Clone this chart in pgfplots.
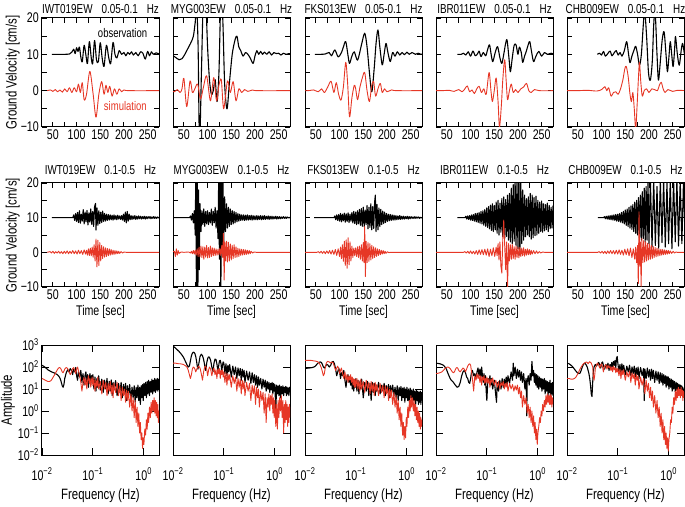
\documentclass[border=0pt]{standalone}
\usepackage{fontspec}
\setmainfont{Liberation Sans}[FakeStretch=0.76]
\usepackage{pgfplots}
\pgfplotsset{compat=1.18}
\definecolor{simred}{RGB}{230,55,38}
\pgfplotsset{
  base/.style={scale only axis, width=117pt, clip=true,
    axis line style={line width=1pt},
    tick align=inside, tick style={line width=0.9pt, black},
    minor tick length=0pt,
    tick label style={font=\fontsize{14}{14}\selectfont},
    yticklabel style={anchor=east, inner sep=0pt, xshift=-3pt},
    label style={font=\fontsize{14}{14}\selectfont},
    title style={font=\fontsize{13}{13}\selectfont, at={(0.5,1)}, anchor=base},
  },
  wave/.style={base, xmin=27, xmax=274, ymin=-10, ymax=20,
    xtick={50,75,...,250}, xticklabels={50,,100,,150,,200,,250},
    ytick={-10,-5,...,20}, yticklabels={},
    major tick length=5pt,
    xticklabel style={anchor=base, yshift=-13pt},
    ylabel style={font=\fontsize{15}{15}\selectfont, at={(axis description cs:-0.25,0.5)}, anchor=center},
  },
  row1/.style={wave, height=109pt, title style={yshift=-1.5pt}},
  row2/.style={wave, height=104pt, title style={yshift=2pt},
    xlabel={Time [sec]}, xlabel style={at={(axis description cs:0.5,0)}, anchor=base, yshift=-29pt}},
  spec/.style={base, xmin=0.01, xmax=2, ymin=0.01, ymax=1000, height=110pt,
    xtick={0.01,0.1,1}, xticklabels={10\textsuperscript{−2},10\textsuperscript{−1},10\textsuperscript{0}},
    ytick={0.01,0.1,1,10,100,1000}, yticklabels={},
    major tick length=7pt,
    xticklabel style={anchor=base, yshift=-25pt},
    xlabel={Frequency (Hz)}, xlabel style={font=\fontsize{15}{15}\selectfont, at={(axis description cs:0.5,0)}, anchor=base, yshift=-44pt},
    ylabel style={font=\fontsize{15}{15}\selectfont, at={(axis description cs:-0.29,0.5)}, anchor=center},
  },
  obs/.style={black, line width=1.1pt, line join=round},
  sim/.style={simred, line width=0.9pt, line join=round},
}
\newcommand{\gap}{\hspace{9pt}}
\begin{document}
\begin{tikzpicture}
\path[use as bounding box] (0pt,0pt) rectangle (685pt,506pt);
% ================= ROW 1 : 0.05-0.1 Hz =================
\begin{axis}[row1, at={(42pt,379pt)}, anchor=south west,
  title={IWT019EW\gap 0.05-0.1\gap Hz},
  yticklabels={−10,,0,,10,,20}, ylabel={Ground Velocity [cm/s]}]
\addplot[obs, smooth, tension=0.5] coordinates {(48,10)(60,10)(75,10)(85,10.1)(90,10.6)(94,11.4)(97,10.2)(100,11.8)(103,10.8)(106,12)(109,9.2)(112,8)(116,12.5)(120,9.5)(123,7.5)(127,13.5)(131,9)(134,7.5)(138,13.8)(142,8.5)(146,8)(150,13.2)(154,9)(158,6.7)(163,12.5)(168,9)(172,7.5)(177,13.3)(181,10)(185,9)(190,11)(195,10)(200,10.5)(204,9.6)(208,10.5)(212,10)(216,10.7)(220,9.8)(225,10.5)(230,9.6)(235,10.7)(240,10.3)(245,8.7)(250,10.8)(254,9.6)(258,10.7)(262,10)(268,10.4)(276,10)};
\addplot[sim, smooth, tension=0.5] coordinates {(38,0)(45,0.2)(50,-0.2)(55,0.3)(60,-0.3)(65,0.2)(70,-0.4)(75,0.5)(80,-0.3)(85,0.8)(90,-0.5)(95,0.8)(100,-0.3)(104,1.8)(108,-0.5)(112,2.2)(116,-2.5)(121,-1)(128,5.3)(135,-1)(141,-7.3)(147,-1)(153,2.5)(158,-1)(162,1.5)(166,-0.5)(170,1.2)(175,-1.5)(180,0.5)(185,-1)(190,0.5)(195,-0.3)(200,0.2)(210,0)(278,0)};
\node[font=\fontsize{12.5}{12.5}\selectfont] at (axis cs:197,15.8) {observation};
\node[font=\fontsize{12.5}{12.5}\selectfont, text=simred] at (axis cs:203,-4.2) {simulation};
\end{axis}
\begin{axis}[row1, at={(173pt,379pt)}, anchor=south west,
  title={MYG003EW\gap 0.05-0.1\gap Hz}]
\addplot[obs, smooth, tension=0.5] coordinates {(22,10)(32,9.2)(40,8.5)(46,8.8)(52,10)(58,11.5)(64,13)(70,15)(74,19)(77,23)(80,12)(83,-15)(87,5)(91,25)(96,25)(100,12)(104,3)(108,-1)(112,0)(116,3)(120,-3)(124,5)(128,25)(132,20)(136,2)(141,-5)(146,2)(152,10)(158,14)(162,15)(166,12)(170,11)(175,9.5)(180,10.5)(185,10)(190,9)(196,7.5)(200,9.5)(204,11)(208,10)(212,10.8)(216,10)(220,10.6)(225,10)(230,10.7)(235,9.8)(240,10.5)(245,10.2)(250,10.3)(255,9.8)(260,10.3)(266,10)(272,10.2)(278,10)};
\addplot[sim, smooth, tension=0.5] coordinates {(22,0)(30,-0.3)(36,0.3)(42,-0.5)(46,0.5)(50,3.4)(56,-4.4)(63,2.7)(68,-0.5)(73,0.5)(79,1.8)(85,-2.3)(91,0.8)(98,4.1)(106,-2.8)(113,3.6)(119,-2.8)(124,1.5)(129,3)(134,-5)(142,2.7)(148,-0.5)(154,2.5)(160,-2.8)(166,0.5)(172,-0.5)(178,0.3)(185,-0.2)(195,0.2)(205,0)(278,0)};
\end{axis}
\begin{axis}[row1, at={(305pt,379pt)}, anchor=south west,
  title={FKS013EW\gap 0.05-0.1\gap Hz}]
\addplot[obs, smooth, tension=0.5] coordinates {(48,10)(60,10)(70,10.1)(78,10.5)(83,9.6)(90,11.2)(97,9.3)(104,10.5)(108,12)(113,13.5)(118,9.5)(121,7.5)(126,9.5)(131,10.7)(138,8.4)(146,12.5)(153,15.8)(158,12)(163,5)(168,-0.3)(173,6)(177,13)(181,16.7)(185,12)(190,7.1)(194,10)(198,13)(202,10.5)(207,8)(212,10.5)(217,9.5)(222,10.7)(227,9.8)(232,10.5)(237,9.9)(242,10.6)(247,10)(253,10.5)(260,10)(266,10.3)(272,10)(278,10.2)};
\addplot[sim, smooth, tension=0.5] coordinates {(20,0)(35,0)(45,0.2)(55,-0.3)(62,0.5)(68,-0.5)(75,1)(82,2.6)(88,-0.5)(93,2.2)(98,-1)(103,-2.6)(108,1)(113,7.8)(117,2)(121,-7.2)(126,-2)(131,1.5)(134,0.5)(138,-2.5)(143,1)(148,3.5)(153,5)(158,0)(163,-3)(168,1.5)(172,2.5)(176,-1.5)(181,0.5)(186,2)(190,-0.5)(195,0.5)(200,-0.3)(210,0.2)(220,0)(278,0)};
\end{axis}
\begin{axis}[row1, at={(436pt,379pt)}, anchor=south west,
  title={IBR011EW\gap 0.05-0.1\gap Hz}]
\addplot[obs, smooth, tension=0.5] coordinates {(72,10)(80,10)(85,10.3)(90,9.8)(95,10.7)(100,9.5)(105,10.9)(110,9.6)(115,10.2)(118,10.9)(122,9.4)(127,10.5)(132,9.6)(136,11.3)(140,12.6)(144,9.5)(147,8)(152,10.5)(157,12.1)(162,9)(166,7.5)(170,10)(174,13)(177,13.9)(181,9)(184,5.2)(188,9)(192,12.5)(196,12.6)(200,10)(203,12)(207,10.5)(210,7.8)(214,9.5)(218,11)(222,12.8)(225,13.5)(229,10.5)(233,8)(238,9.5)(244,10.8)(250,9.5)(256,10.5)(262,10)(270,10.3)(278,10)};
\addplot[sim, smooth, tension=0.5] coordinates {(20,0)(40,0)(55,0.1)(65,-0.2)(75,0.3)(82,-0.3)(88,0.5)(93,1.3)(98,-0.3)(103,0.2)(108,-0.8)(113,0.5)(118,1.2)(123,-0.5)(128,0.5)(133,-1)(139,5)(143,0)(146,-3)(150,0)(154,3.5)(158,-3)(161,-10)(165,-4)(168,3)(172,8.5)(175,3)(178,-2.5)(182,0)(186,1.8)(190,-0.5)(195,0.3)(200,-0.5)(206,0.5)(212,1)(218,2)(223,0)(228,-0.5)(235,0.3)(245,0)(278,0)};
\end{axis}
\begin{axis}[row1, at={(567pt,379pt)}, anchor=south west,
  title={CHB009EW\gap 0.05-0.1\gap Hz}]
\addplot[obs, smooth, tension=0.5] coordinates {(91,10)(96,10.3)(100,9.8)(104,10.8)(108,9.5)(113,10.2)(118,10.9)(122,9.6)(127,10.5)(131,11)(135,9.8)(139,10.5)(143,9.5)(148,11)(153,13.5)(157,10)(160,7.7)(164,9.5)(168,11)(172,12.2)(176,10)(180,7)(184,10)(188,18)(191,22)(195,15)(199,5)(203,2.9)(207,8)(210,18)(213,22)(217,10)(220,2.9)(224,8)(228,14)(232,16.2)(236,10)(239,5.2)(242,9)(245,13.5)(248,10)(251,6.6)(254,11)(256,14.9)(260,10)(264,7)(268,11)(271,13)(275,10)(278,8)};
\addplot[sim, smooth, tension=0.5] coordinates {(20,0)(50,0)(70,0.1)(90,-0.1)(100,0.3)(107,1.1)(111,0)(115,0.8)(120,-1.5)(125,-0.5)(130,-0.3)(135,-1)(140,0.5)(145,3)(149,6)(152,6.7)(156,4)(160,-1)(163,-3)(166,-0.5)(169,-5)(172,-10.5)(175,-4)(178,4)(180,7.8)(183,2)(186,-1.5)(190,0)(195,0.5)(200,-0.5)(206,0.5)(212,0.3)(218,0)(222,1.5)(226,2.3)(230,0.5)(234,-0.5)(240,0.3)(250,-0.2)(260,0.1)(278,0)};
\end{axis}
% ================= ROW 2 : 0.1-0.5 Hz =================
\begin{axis}[row2, at={(42pt,219pt)}, anchor=south west,
  title={IWT019EW\gap 0.1-0.5\gap Hz},
  yticklabels={−10,,0,,10,,20}, ylabel={Ground Velocity [cm/s]}]
\addplot[obs] coordinates {(48,10)(92,10)(94,10.8)(96,9.2)(98,11.2)(100,8.9)(102,11.5)(104,8.6)(106,12.0)(108,8.4)(110,11.0)(112,9.0)(114,12.3)(116,8.2)(118,11.6)(120,8.8)(122,12.1)(124,7.9)(126,11.4)(128,8.7)(130,12.5)(132,8.1)(134,11.8)(136,7.5)(138,13.2)(140,14.1)(141,6.4)(143,12.8)(145,7.8)(147,12.0)(149,8.3)(151,11.6)(153,8.6)(155,11.9)(157,8.9)(159,11.2)(161,9.0)(163,11.0)(165,9.2)(167,10.9)(169,9.3)(171,10.8)(173,9.4)(175,10.7)(177,9.3)(179,10.8)(181,9.5)(183,10.6)(185,9.4)(187,10.7)(189,9.6)(191,10.5)(193,9.5)(195,10.6)(197,9.3)(199,11.0)(201,8.9)(203,11.6)(205,8.5)(207,11.8)(209,9.0)(211,11.0)(213,9.4)(215,10.6)(217,9.5)(219,10.5)(221,9.6)(223,10.6)(225,9.5)(227,10.4)(229,9.6)(231,10.5)(233,9.7)(235,10.4)(237,9.6)(239,10.3)(241,9.7)(243,10.4)(245,9.6)(247,10.3)(249,9.7)(251,10.3)(253,9.8)(255,10.3)(257,9.7)(259,10.2)(261,9.8)(263,10.3)(265,9.8)(267,10.2)(269,9.8)(271,10.2)(273,9.9)(275,10.1)(277,9.9)(278,10)};
\addplot[sim] coordinates {(38,0)(44,0.2)(47,-0.2)(50,0.3)(53,-0.3)(56,0.2)(59,-0.2)(62,0.3)(65,-0.3)(68,0.2)(71,-0.4)(74,0.3)(77,-0.3)(80,0.4)(83,-0.4)(86,0.3)(89,-0.3)(92,0.5)(95,-0.4)(98,0.4)(101,-0.5)(104,0.6)(107,-0.4)(110,0.5)(113,-0.6)(116,0.7)(119,-0.5)(121,0.6)(123,-0.8)(125,1.0)(127,-0.9)(129,1.2)(131,-1.0)(133,1.5)(135,-1.4)(137,2.2)(139,-2.5)(141,3.8)(143,-4.2)(145,3.5)(147,-3.8)(149,2.8)(151,-2.5)(153,2.0)(155,-1.8)(157,1.6)(159,-1.4)(161,1.3)(163,-1.2)(165,1.1)(167,-1.0)(169,1.0)(171,-0.8)(173,0.8)(175,-0.7)(177,0.6)(179,-0.6)(181,0.5)(183,-0.5)(185,0.4)(187,-0.4)(189,0.3)(191,-0.3)(194,0.2)(197,-0.2)(200,0.1)(205,0)(278,0)};
\end{axis}
\begin{axis}[row2, at={(173pt,219pt)}, anchor=south west,
  title={MYG003EW\gap 0.1-0.5\gap Hz}]
\addplot[obs] coordinates {(23,10)(62,10)(64,10.5)(66,9.3)(68,11.2)(70,8.5)(72,12)(74,5)(75,22)(76.5,-12)(78,22)(79.5,-12)(81,18)(82.5,-5)(84,14)(86,6)(88,12)(90,8)(92,12.5)(94,7.5)(96,11.8)(98,8.2)(100,12)(102,8)(104,11.5)(106,8.5)(108,12.5)(110,7.8)(112,11.8)(114,8.5)(116,13)(118,7)(120,12)(122,4)(123.5,22)(125,-2)(126.5,22)(128,-12)(129.5,22)(131,0)(132.5,22)(134,2)(136,16)(138,6)(140,14)(142,7)(144,13)(146,7.5)(148,12.5)(150,8)(152,12)(154,8.2)(156,11.8)(158,8.5)(160,11.5)(162,8.8)(164,11.2)(166,9)(168,11)(170,9.2)(172,10.8)(174,9.3)(176,10.8)(178,9.2)(180,10.7)(182,9.3)(184,10.8)(186,9.3)(188,10.6)(190,9.4)(192,10.7)(194,9.3)(196,10.6)(198,9.4)(200,10.5)(202,9.4)(204,10.6)(206,9.4)(208,10.5)(210,9.5)(212,10.6)(214,9.4)(216,10.5)(218,9.5)(220,10.6)(222,9.5)(224,10.4)(226,9.6)(228,10.5)(230,9.5)(232,10.4)(234,9.6)(236,10.4)(238,9.6)(240,10.3)(242,9.7)(244,10.4)(246,9.6)(248,10.3)(250,9.7)(252,10.3)(254,9.7)(256,10.2)(258,9.8)(260,10.3)(262,9.8)(264,10.2)(266,9.8)(268,10.2)(270,9.9)(272,10.1)(274,9.9)(276,10.1)(278,10)};
\addplot[sim] coordinates {(23,0)(30,0.3)(32,-1.2)(34,1.0)(36,-0.8)(38,0.5)(40,-0.3)(44,0.1)(50,0)(60,0.1)(64,-0.2)(66,0.3)(68,-0.4)(70,0.5)(72,-0.5)(74,0.6)(76,-0.8)(78,1.0)(80,-1.2)(82,1.5)(84,-1.3)(86,1.8)(88,-1.5)(90,1.6)(92,-2.0)(94,1.5)(96,-1.4)(98,2.0)(100,-1.6)(102,1.4)(104,-1.5)(106,1.8)(108,-1.2)(110,1.3)(112,-1.0)(114,1.2)(116,-0.9)(118,1.0)(120,-0.8)(122,0.9)(124,-0.7)(126,1.2)(128,-1.0)(130,2.0)(132,-1.5)(133.5,5.5)(135,-8.0)(136.5,3.0)(138,-2.5)(140,3.2)(142,-2.8)(144,2.9)(146,-2.5)(148,2.4)(150,-2.2)(152,2.0)(154,-1.8)(156,2.2)(158,-1.5)(160,1.6)(162,-1.4)(164,1.2)(166,-1.2)(168,1.0)(170,-0.9)(172,0.9)(174,-0.8)(176,0.8)(178,-0.7)(180,0.7)(182,-0.6)(184,0.6)(186,-0.5)(188,0.5)(190,-0.4)(192,0.3)(195,-0.2)(198,0.1)(203,0)(278,0)};
\end{axis}
\begin{axis}[row2, at={(305pt,219pt)}, anchor=south west,
  title={FKS013EW\gap 0.1-0.5\gap Hz}]
\addplot[obs] coordinates {(46,10)(88,10)(90,10.5)(92,9.4)(94,10.8)(96,9.2)(98,10.9)(100,9.0)(102,11.2)(104,8.8)(106,11.0)(108,9.1)(110,11.3)(112,8.7)(114,11.1)(116,8.9)(118,11.4)(120,8.6)(122,11.0)(124,9.0)(126,11.5)(128,8.5)(130,11.8)(132,8.3)(134,11.6)(136,8.0)(138,12.0)(140,8.2)(142,12.4)(144,7.8)(146,12.6)(148,7.5)(150,13.0)(152,7.4)(154,12.2)(156,8.0)(158,13.5)(160,6.8)(162,13.0)(164,7.2)(166,14.0)(168,6.5)(170,13.2)(172,6.9)(174,14.5)(175.5,16.5)(177,6.0)(179,13.8)(181,6.5)(183,12.8)(185,7.4)(187,12.4)(189,8.0)(191,11.9)(193,8.3)(195,11.6)(197,8.6)(199,11.2)(201,8.9)(203,11.0)(205,9.1)(207,10.9)(209,9.2)(211,10.8)(213,9.3)(215,10.7)(217,9.3)(219,10.6)(221,9.4)(223,10.5)(225,9.5)(227,10.6)(229,9.5)(231,10.4)(233,9.6)(235,10.4)(237,9.6)(239,10.3)(241,9.7)(243,10.4)(245,9.6)(247,10.3)(249,9.7)(251,10.3)(253,9.8)(255,10.2)(257,9.8)(259,10.3)(261,9.8)(263,10.2)(265,9.9)(267,10.2)(269,9.8)(271,10.1)(273,9.9)(275,10.1)(278,10)};
\addplot[sim] coordinates {(20,0)(52,0)(55,0.2)(58,-0.2)(61,0.3)(64,-0.3)(67,0.3)(70,-0.4)(73,0.4)(76,-0.3)(79,0.5)(82,-0.5)(85,0.6)(88,-0.6)(91,0.8)(94,-0.9)(97,1.0)(100,-1.2)(102,1.5)(104,-1.8)(106,2.2)(108,-2.6)(110,3.2)(112,-3.8)(114,3.6)(116,-4.6)(118,4.2)(120,-3.6)(122,3.0)(124,-2.5)(126,1.8)(128,-1.5)(130,1.2)(132,-1.0)(134,1.3)(136,-1.2)(138,1.6)(140,-1.5)(142,1.8)(144,-2.0)(146,2.2)(148,-2.5)(150,2.8)(151.5,-3.0)(153,7.4)(154.5,-7.0)(156,3.2)(158,-3.0)(160,2.8)(162,-2.6)(164,2.5)(166,-2.2)(168,2.0)(170,-1.8)(172,1.6)(174,-1.5)(176,1.3)(178,-1.2)(180,1.0)(182,-0.9)(184,0.8)(186,-0.7)(188,0.6)(190,-0.5)(192,0.5)(194,-0.4)(196,0.3)(198,-0.3)(201,0.2)(204,-0.1)(207,0)(278,0)};
\end{axis}
\begin{axis}[row2, at={(436pt,219pt)}, anchor=south west,
  title={IBR011EW\gap 0.1-0.5\gap Hz}]
\addplot[obs] coordinates {(72,10)(88,10)(90,10.4)(92,9.6)(94,10.5)(96,9.5)(98,10.6)(100,9.3)(102,10.8)(104,9.2)(106,10.9)(108,9.0)(110,11.2)(112,8.8)(114,11.3)(116,8.6)(118,11.5)(120,8.4)(122,11.8)(124,8.2)(126,12.0)(128,7.8)(130,12.3)(132,7.5)(134,12.8)(136,7.2)(138,13.2)(140,6.8)(142,13.6)(144,6.3)(146,14.0)(148,6.0)(150,13.5)(152,6.5)(154,14.5)(156,5.5)(158,15.0)(160,5.0)(162,14.2)(164,5.8)(166,15.5)(168,4.5)(170,16.0)(172,4.0)(174,15.2)(176,4.6)(178,16.5)(180,3.5)(182,17.0)(184,3.0)(186,18.5)(188,2.5)(190,19.5)(192,3.2)(194,21)(196,2.0)(198,21)(200,1.0)(202,21)(204,-0.8)(206,20.5)(208,2.5)(210,18.0)(212,3.5)(214,16.5)(216,4.5)(218,15.5)(220,5.0)(222,16.0)(224,4.5)(226,17.0)(228,3.8)(230,16.5)(232,4.2)(234,15.8)(236,4.8)(238,16.2)(240,5.0)(242,15.0)(244,5.5)(246,14.5)(248,6.0)(250,14.8)(252,5.8)(254,14.0)(256,6.2)(258,13.8)(260,6.5)(262,14.2)(264,6.0)(266,13.5)(268,6.8)(270,13.0)(272,7.0)(274,13.4)(276,6.8)(278,12.5)};
\addplot[sim] coordinates {(20,0)(85,0)(88,0.2)(91,-0.2)(94,0.3)(97,-0.3)(100,0.4)(103,-0.4)(106,0.3)(109,-0.5)(112,0.5)(115,-0.6)(118,0.7)(121,-0.6)(124,0.8)(127,-0.7)(130,0.9)(133,-0.8)(136,1.0)(139,-1.2)(142,0.9)(145,-1.0)(148,1.3)(151,-1.2)(154,1.5)(156,-1.0)(158,2.5)(160,-2.2)(162,3.0)(164,-4.0)(166,-6.0)(168,4.0)(170,9.3)(172,2.0)(174,-5.0)(176,3.0)(178,-10.5)(180,2.5)(182,-2.5)(184,2.2)(186,-2.0)(188,2.3)(190,-1.8)(192,1.6)(194,-2.0)(196,1.8)(198,-1.5)(200,1.4)(202,-1.6)(204,1.5)(206,-1.2)(208,1.2)(210,-1.0)(212,1.3)(214,-1.1)(216,0.9)(218,-0.8)(220,1.0)(222,-0.7)(224,0.8)(226,-0.7)(228,0.6)(230,-0.5)(233,0.5)(236,-0.4)(239,0.4)(242,-0.3)(245,0.2)(248,-0.2)(252,0.1)(256,0)(278,0)};
\end{axis}
\begin{axis}[row2, at={(567pt,219pt)}, anchor=south west,
  title={CHB009EW\gap 0.1-0.5\gap Hz}]
\addplot[obs] coordinates {(92,10)(104,10)(106,10.3)(108,9.7)(110,10.4)(112,9.6)(114,10.5)(116,9.5)(118,10.6)(120,9.4)(122,10.7)(124,9.3)(126,10.8)(128,9.2)(130,10.9)(132,9.0)(134,11.0)(136,8.9)(138,11.2)(140,8.7)(142,11.5)(144,8.5)(146,11.8)(148,8.2)(150,12.2)(152,7.8)(154,12.5)(156,7.4)(158,13.0)(160,7.0)(162,13.4)(164,6.6)(166,13.8)(168,6.0)(170,14.5)(172,5.5)(174,15.0)(176,5.0)(178,15.8)(180,4.2)(182,16.5)(184,3.5)(186,17.5)(188,4.0)(190,18.5)(192,3.0)(194,19.0)(196,3.5)(198,20.5)(200,2.5)(203,21)(206.5,1.5)(210,21)(213.5,2.0)(217,19)(220.5,1.2)(224,21)(227.5,2.8)(231,21)(234.5,1.5)(238,20)(241.5,2.5)(245,21)(248.5,1.0)(252,21)(255.5,3.0)(259,21)(262.5,1.8)(266,21)(269.5,2.5)(273,21)(276.5,3.0)(278,10)};
\addplot[sim] coordinates {(20,0)(92,0)(95,0.2)(98,-0.2)(101,0.3)(104,-0.3)(107,0.3)(110,-0.4)(113,0.4)(116,-0.3)(119,0.5)(122,-0.4)(125,0.5)(128,-0.5)(131,0.6)(134,-0.5)(137,0.7)(140,-0.6)(143,0.6)(146,-0.8)(149,0.9)(152,-0.7)(155,1.0)(158,-1.0)(161,1.2)(164,-1.5)(167,1.0)(170,-2.0)(172,1.5)(174,-3.0)(176,2.0)(177.5,-9.0)(179,11.7)(180.5,-4.0)(182,3.0)(183.5,-9.8)(185,4.0)(187,-3.0)(189,3.5)(191,-2.8)(193,3.0)(195,-2.5)(197,2.6)(199,-2.2)(201,2.4)(203,-2.0)(205,2.0)(207,-1.8)(209,1.7)(211,-1.5)(213,1.4)(215,-1.3)(217,1.2)(219,-1.1)(221,1.0)(223,-1.0)(225,0.9)(227,-0.8)(229,0.8)(231,-0.7)(233,0.7)(235,-0.6)(237,0.6)(239,-0.5)(241,0.5)(243,-0.4)(245,0.4)(248,-0.3)(251,0.3)(254,-0.2)(257,0.1)(260,0)(278,0)};
\end{axis}
% ================= ROW 3 : spectra =================
\begin{loglogaxis}[spec, at={(42pt,51pt)}, anchor=south west,
  yticklabels={10\textsuperscript{−2},10\textsuperscript{−1},10\textsuperscript{0},10\textsuperscript{1},10\textsuperscript{2},10\textsuperscript{3}},
  ylabel={Amplitude}]
\addplot[obs] coordinates {(0.010,120)(0.011,105)(0.012,90)(0.013,75)(0.014,68)(0.015,62)(0.016,58)(0.017,55)(0.018,52)(0.019,48)(0.020,45)(0.021,40)(0.022,35)(0.023,28)(0.024,20)(0.025,14)(0.026,12)(0.027,16)(0.028,30)(0.030,55)(0.032,75)(0.034,60)(0.036,85)(0.038,70)(0.040,45)(0.042,80)(0.044,60)(0.046,95)(0.048,40)(0.050,25)(0.052,60)(0.055,35)(0.058,70)(0.061,20)(0.064,50)(0.067,15)(0.070,40)(0.073,60)(0.076,20)(0.079,45)(0.082,12)(0.085,35)(0.088,50)(0.091,15)(0.094,40)(0.097,25)(0.10,45)(0.105,10)(0.11,35)(0.115,8)(0.12,30)(0.125,12)(0.13,40)(0.14,9)(0.15,28)(0.16,7)(0.17,25)(0.18,10)(0.19,30)(0.20,6)(0.21,22)(0.22,8)(0.23,26)(0.24,5)(0.25,20)(0.26,9)(0.28,24)(0.30,5)(0.32,18)(0.34,7)(0.36,20)(0.38,4)(0.40,16)(0.42,6)(0.44,18)(0.46,3)(0.48,14)(0.50,5)(0.53,16)(0.56,3)(0.59,12)(0.62,4)(0.65,14)(0.68,2.5)(0.71,12)(0.74,4)(0.77,15)(0.80,3)(0.83,12)(0.86,2)(0.89,14)(0.92,4)(0.95,16)(0.98,3)(1.01,18)(1.05,5)(1.09,20)(1.13,4)(1.17,22)(1.21,6)(1.25,25)(1.30,5)(1.35,22)(1.40,7)(1.45,28)(1.50,6)(1.55,25)(1.60,8)(1.65,30)(1.70,7)(1.75,26)(1.80,9)(1.85,30)(1.90,8)(1.95,28)(2.0,10)};
\addplot[sim] coordinates {(0.010,30)(0.011,27)(0.012,24)(0.013,22)(0.014,22)(0.015,24)(0.016,30)(0.017,38)(0.018,48)(0.019,60)(0.020,75)(0.021,88)(0.022,95)(0.023,90)(0.024,75)(0.025,60)(0.026,55)(0.027,65)(0.028,80)(0.030,95)(0.032,85)(0.034,60)(0.036,45)(0.038,60)(0.040,85)(0.042,95)(0.044,70)(0.046,50)(0.048,80)(0.050,100)(0.052,70)(0.055,40)(0.058,20)(0.061,8)(0.064,20)(0.067,35)(0.070,15)(0.073,30)(0.076,10)(0.079,25)(0.082,40)(0.085,18)(0.088,30)(0.091,12)(0.094,25)(0.097,35)(0.10,14)(0.105,30)(0.11,8)(0.115,25)(0.12,12)(0.125,35)(0.13,10)(0.14,22)(0.15,6)(0.16,25)(0.17,10)(0.18,20)(0.19,5)(0.20,18)(0.21,8)(0.22,22)(0.23,6)(0.24,15)(0.25,4)(0.26,18)(0.28,7)(0.30,20)(0.32,5)(0.34,14)(0.36,3)(0.38,12)(0.40,5)(0.42,10)(0.44,2.5)(0.46,9)(0.48,3)(0.50,8)(0.53,1.5)(0.56,6)(0.59,1)(0.62,4)(0.65,0.5)(0.68,3)(0.71,0.3)(0.74,1.5)(0.77,0.2)(0.80,0.8)(0.83,0.1)(0.86,0.3)(0.89,0.05)(0.92,0.1)(0.95,0.02)(0.98,0.06)(1.01,0.03)(1.05,0.15)(1.09,0.08)(1.13,0.4)(1.17,0.15)(1.21,0.8)(1.25,0.3)(1.30,1.5)(1.35,0.5)(1.40,2.5)(1.45,0.8)(1.50,3)(1.55,1)(1.60,4)(1.65,0.8)(1.70,3)(1.75,0.6)(1.80,2.5)(1.85,0.5)(1.90,2)(1.95,0.3)(2.0,1)};
\end{loglogaxis}
\begin{loglogaxis}[spec, at={(173pt,51pt)}, anchor=south west]
\addplot[obs] coordinates {(0.010,900)(0.011,750)(0.012,620)(0.013,520)(0.014,430)(0.015,350)(0.016,280)(0.017,210)(0.018,160)(0.019,120)(0.020,100)(0.021,110)(0.022,190)(0.023,320)(0.024,420)(0.025,470)(0.026,460)(0.027,400)(0.028,300)(0.029,190)(0.030,110)(0.031,80)(0.032,130)(0.034,300)(0.036,380)(0.038,330)(0.040,220)(0.042,120)(0.044,70)(0.046,150)(0.048,240)(0.050,290)(0.052,280)(0.055,200)(0.058,100)(0.061,60)(0.064,150)(0.067,230)(0.070,220)(0.073,140)(0.076,70)(0.079,110)(0.082,190)(0.085,200)(0.088,140)(0.091,60)(0.094,120)(0.097,170)(0.10,150)(0.105,50)(0.11,140)(0.115,40)(0.12,120)(0.125,60)(0.13,130)(0.14,35)(0.15,110)(0.16,45)(0.17,100)(0.18,30)(0.19,90)(0.20,40)(0.21,85)(0.22,25)(0.23,80)(0.24,35)(0.25,70)(0.26,20)(0.28,65)(0.30,25)(0.32,60)(0.34,18)(0.36,55)(0.38,20)(0.40,45)(0.42,15)(0.44,40)(0.46,12)(0.48,35)(0.50,15)(0.53,30)(0.56,10)(0.59,28)(0.62,12)(0.65,25)(0.68,8)(0.71,22)(0.74,10)(0.77,20)(0.80,7)(0.83,18)(0.86,9)(0.89,20)(0.92,6)(0.95,18)(0.98,8)(1.01,16)(1.05,0.8)(1.09,15)(1.13,6)(1.17,14)(1.21,5)(1.25,15)(1.30,4)(1.35,13)(1.40,6)(1.45,14)(1.50,5)(1.55,12)(1.60,7)(1.65,13)(1.70,5)(1.75,12)(1.80,6)(1.85,11)(1.90,5)(1.95,12)(2.0,7)};
\addplot[sim] coordinates {(0.010,150)(0.011,150)(0.012,145)(0.013,140)(0.014,140)(0.015,135)(0.016,130)(0.017,120)(0.018,110)(0.019,95)(0.020,70)(0.021,45)(0.022,30)(0.023,45)(0.024,80)(0.025,100)(0.026,95)(0.027,80)(0.028,60)(0.030,90)(0.032,110)(0.034,90)(0.036,50)(0.038,25)(0.040,60)(0.042,100)(0.044,110)(0.046,80)(0.048,40)(0.050,70)(0.052,100)(0.055,80)(0.058,40)(0.061,70)(0.064,90)(0.067,45)(0.070,75)(0.073,30)(0.076,80)(0.079,50)(0.082,85)(0.085,30)(0.088,70)(0.091,45)(0.094,75)(0.097,35)(0.10,60)(0.105,20)(0.11,55)(0.115,15)(0.12,50)(0.125,25)(0.13,45)(0.14,12)(0.15,40)(0.16,18)(0.17,35)(0.18,8)(0.19,30)(0.20,12)(0.21,28)(0.22,6)(0.23,25)(0.24,10)(0.25,22)(0.26,5)(0.28,20)(0.30,8)(0.32,18)(0.34,3)(0.36,15)(0.38,6)(0.40,14)(0.42,2)(0.44,12)(0.46,4)(0.48,10)(0.50,1.5)(0.53,8)(0.56,3)(0.59,7)(0.62,0.8)(0.65,6)(0.68,0.3)(0.71,4)(0.74,1.5)(0.77,6)(0.80,1)(0.83,5)(0.86,2)(0.89,6)(0.92,0.8)(0.95,4)(0.98,0.5)(1.01,3)(1.05,0.2)(1.09,2)(1.13,0.15)(1.17,3)(1.21,0.5)(1.25,4)(1.30,1)(1.35,5)(1.40,0.5)(1.45,3)(1.50,0.1)(1.55,2)(1.60,0.3)(1.65,3)(1.70,0.4)(1.75,2)(1.80,0.2)(1.85,1.5)(1.90,0.3)(1.95,2)(2.0,0.5)};
\end{loglogaxis}
\begin{loglogaxis}[spec, at={(305pt,51pt)}, anchor=south west]
\addplot[obs] coordinates {(0.010,85)(0.011,88)(0.012,90)(0.013,92)(0.014,95)(0.015,100)(0.016,110)(0.017,130)(0.018,150)(0.019,165)(0.020,170)(0.021,160)(0.022,130)(0.023,100)(0.024,90)(0.025,100)(0.026,120)(0.027,130)(0.028,125)(0.030,100)(0.032,120)(0.034,170)(0.036,180)(0.038,140)(0.040,80)(0.042,40)(0.044,60)(0.046,90)(0.048,60)(0.050,30)(0.052,55)(0.055,40)(0.058,70)(0.061,25)(0.064,12)(0.067,30)(0.070,45)(0.073,20)(0.076,35)(0.079,15)(0.082,30)(0.085,10)(0.088,25)(0.091,8)(0.094,20)(0.097,12)(0.10,30)(0.105,8)(0.11,25)(0.115,6)(0.12,22)(0.125,10)(0.13,28)(0.14,4)(0.15,20)(0.16,8)(0.17,22)(0.18,5)(0.19,18)(0.20,3)(0.21,20)(0.22,7)(0.23,18)(0.24,5)(0.25,15)(0.26,8)(0.28,20)(0.30,6)(0.32,15)(0.34,8)(0.36,18)(0.38,5)(0.40,14)(0.42,7)(0.44,16)(0.46,4)(0.48,14)(0.50,6)(0.53,15)(0.56,5)(0.59,12)(0.62,4)(0.65,14)(0.68,3)(0.71,12)(0.74,5)(0.77,13)(0.80,3)(0.83,11)(0.86,4)(0.89,12)(0.92,2.5)(0.95,10)(0.98,4)(1.01,12)(1.05,3)(1.09,10)(1.13,2.5)(1.17,11)(1.21,4)(1.25,9)(1.30,2)(1.35,10)(1.40,3)(1.45,8)(1.50,2)(1.55,9)(1.60,3)(1.65,8)(1.70,2)(1.75,7)(1.80,2.5)(1.85,8)(1.90,2)(1.95,7)(2.0,3)};
\addplot[sim] coordinates {(0.010,200)(0.011,200)(0.012,200)(0.013,200)(0.014,195)(0.015,190)(0.016,185)(0.017,180)(0.018,170)(0.019,150)(0.020,120)(0.021,90)(0.022,60)(0.023,40)(0.024,50)(0.025,90)(0.026,140)(0.027,170)(0.028,180)(0.030,170)(0.032,150)(0.034,170)(0.036,150)(0.038,100)(0.040,70)(0.042,90)(0.044,110)(0.046,80)(0.048,50)(0.050,70)(0.052,90)(0.055,50)(0.058,30)(0.061,60)(0.064,25)(0.067,45)(0.070,20)(0.073,40)(0.076,25)(0.079,45)(0.082,20)(0.085,35)(0.088,15)(0.091,30)(0.094,12)(0.097,28)(0.10,12)(0.105,30)(0.11,10)(0.115,25)(0.12,8)(0.125,28)(0.13,10)(0.14,22)(0.15,7)(0.16,25)(0.17,10)(0.18,20)(0.19,6)(0.20,22)(0.21,8)(0.22,18)(0.23,5)(0.24,20)(0.25,8)(0.26,16)(0.28,5)(0.30,18)(0.32,7)(0.34,15)(0.36,4)(0.38,14)(0.40,6)(0.42,12)(0.44,3)(0.46,10)(0.48,4)(0.50,9)(0.53,2)(0.56,7)(0.59,1.5)(0.62,5)(0.65,0.8)(0.68,3)(0.71,0.4)(0.74,1.5)(0.77,0.2)(0.80,0.8)(0.83,0.08)(0.86,0.3)(0.89,0.05)(0.92,0.2)(0.95,0.06)(0.98,0.5)(1.01,0.2)(1.05,1.5)(1.09,0.5)(1.13,3)(1.17,1)(1.21,5)(1.25,1.5)(1.30,4)(1.35,1)(1.40,3)(1.45,0.6)(1.50,2)(1.55,0.4)(1.60,1.5)(1.65,0.3)(1.70,1)(1.75,0.2)(1.80,0.8)(1.85,0.15)(1.90,0.5)(1.95,0.2)(2.0,0.4)};
\end{loglogaxis}
\begin{loglogaxis}[spec, at={(436pt,51pt)}, anchor=south west]
\addplot[obs] coordinates {(0.010,150)(0.011,145)(0.012,140)(0.013,130)(0.014,120)(0.015,100)(0.016,80)(0.017,55)(0.018,40)(0.019,30)(0.020,25)(0.022,20)(0.024,15)(0.026,12)(0.028,13)(0.030,20)(0.032,40)(0.034,60)(0.036,70)(0.038,55)(0.040,35)(0.042,30)(0.044,20)(0.046,18)(0.048,30)(0.050,60)(0.052,70)(0.055,40)(0.058,50)(0.061,30)(0.064,60)(0.067,90)(0.070,40)(0.073,80)(0.076,30)(0.079,100)(0.082,40)(0.085,20)(0.088,50)(0.091,15)(0.094,40)(0.097,8)(0.10,3)(0.105,30)(0.11,20)(0.115,40)(0.12,15)(0.125,30)(0.13,10)(0.14,25)(0.15,5)(0.155,2.5)(0.16,20)(0.17,8)(0.18,25)(0.19,10)(0.20,30)(0.21,12)(0.22,28)(0.23,15)(0.24,35)(0.25,14)(0.26,40)(0.28,18)(0.30,60)(0.32,25)(0.33,150)(0.34,40)(0.36,100)(0.38,30)(0.40,80)(0.42,35)(0.44,70)(0.46,25)(0.48,60)(0.50,20)(0.53,50)(0.56,10)(0.59,30)(0.61,0.6)(0.62,20)(0.65,40)(0.68,15)(0.71,50)(0.74,25)(0.77,180)(0.80,40)(0.83,70)(0.86,20)(0.89,50)(0.92,15)(0.95,45)(0.98,12)(1.01,40)(1.05,10)(1.09,35)(1.13,12)(1.17,30)(1.21,8)(1.25,28)(1.30,10)(1.35,30)(1.40,6)(1.45,25)(1.50,8)(1.55,22)(1.60,5)(1.65,20)(1.70,7)(1.75,25)(1.80,4)(1.85,18)(1.90,6)(1.95,20)(2.0,5)};
\addplot[sim] coordinates {(0.010,50)(0.011,52)(0.012,55)(0.013,60)(0.014,70)(0.015,85)(0.016,95)(0.017,100)(0.018,95)(0.019,85)(0.020,70)(0.021,60)(0.022,55)(0.023,60)(0.024,75)(0.025,90)(0.026,95)(0.027,85)(0.028,70)(0.030,60)(0.032,75)(0.034,90)(0.036,80)(0.038,60)(0.040,80)(0.042,110)(0.044,130)(0.046,140)(0.048,120)(0.050,60)(0.052,30)(0.055,8)(0.058,40)(0.061,25)(0.064,50)(0.067,30)(0.070,45)(0.073,20)(0.076,40)(0.079,15)(0.082,35)(0.085,25)(0.088,40)(0.091,18)(0.094,30)(0.097,20)(0.10,35)(0.105,18)(0.11,30)(0.115,12)(0.12,28)(0.125,20)(0.13,32)(0.14,15)(0.15,25)(0.16,12)(0.17,22)(0.18,10)(0.19,20)(0.20,14)(0.21,22)(0.22,10)(0.23,18)(0.24,12)(0.25,20)(0.26,8)(0.28,18)(0.30,10)(0.32,16)(0.34,8)(0.36,14)(0.38,9)(0.40,15)(0.42,6)(0.44,12)(0.46,4)(0.48,8)(0.50,1.5)(0.53,5)(0.56,2)(0.59,4)(0.62,0.8)(0.65,2)(0.68,0.5)(0.71,1.5)(0.74,0.3)(0.77,1)(0.80,0.2)(0.83,0.6)(0.86,0.1)(0.89,0.3)(0.92,0.05)(0.95,0.15)(0.98,0.03)(1.01,0.1)(1.05,0.2)(1.09,0.5)(1.13,0.3)(1.17,1)(1.21,0.6)(1.25,2)(1.30,1)(1.35,3)(1.40,1.5)(1.45,5)(1.50,2)(1.55,6)(1.60,2.5)(1.65,5)(1.70,2)(1.75,6)(1.80,2)(1.85,5)(1.90,1.5)(1.95,4)(2.0,2)};
\end{loglogaxis}
\begin{loglogaxis}[spec, at={(567pt,51pt)}, anchor=south west]
\addplot[obs] coordinates {(0.010,150)(0.011,140)(0.012,120)(0.013,100)(0.014,80)(0.015,65)(0.016,55)(0.017,50)(0.018,52)(0.019,70)(0.020,100)(0.021,130)(0.022,150)(0.023,140)(0.024,120)(0.025,100)(0.026,70)(0.027,50)(0.028,30)(0.029,15)(0.030,6)(0.031,4.5)(0.032,20)(0.033,60)(0.034,100)(0.036,130)(0.038,110)(0.040,140)(0.042,160)(0.044,130)(0.046,90)(0.048,150)(0.050,170)(0.052,120)(0.055,80)(0.058,130)(0.061,100)(0.064,150)(0.067,70)(0.070,130)(0.073,90)(0.076,160)(0.079,100)(0.082,180)(0.085,120)(0.088,200)(0.091,90)(0.094,250)(0.097,300)(0.10,150)(0.105,60)(0.11,130)(0.115,50)(0.12,140)(0.125,70)(0.13,120)(0.14,45)(0.15,110)(0.16,60)(0.17,120)(0.18,40)(0.19,100)(0.20,50)(0.21,110)(0.22,35)(0.23,90)(0.24,45)(0.25,100)(0.26,30)(0.28,95)(0.30,40)(0.32,85)(0.33,3)(0.34,80)(0.36,30)(0.38,90)(0.40,35)(0.42,75)(0.44,25)(0.46,80)(0.48,30)(0.50,70)(0.53,20)(0.56,65)(0.59,25)(0.62,60)(0.65,18)(0.68,55)(0.71,20)(0.74,50)(0.77,15)(0.80,45)(0.83,18)(0.86,40)(0.89,12)(0.92,38)(0.95,15)(0.98,35)(1.01,10)(1.05,30)(1.09,12)(1.13,28)(1.17,8)(1.21,25)(1.25,10)(1.30,22)(1.35,7)(1.40,20)(1.45,9)(1.50,18)(1.55,6)(1.60,16)(1.65,8)(1.70,15)(1.75,5)(1.80,14)(1.85,6)(1.90,12)(1.95,5)(2.0,10)};
\addplot[sim] coordinates {(0.010,30)(0.011,30)(0.012,28)(0.013,28)(0.014,30)(0.015,35)(0.016,45)(0.017,60)(0.018,80)(0.019,100)(0.020,120)(0.021,140)(0.022,150)(0.023,160)(0.024,170)(0.025,160)(0.026,140)(0.027,160)(0.028,175)(0.030,150)(0.032,100)(0.033,40)(0.034,25)(0.035,40)(0.036,80)(0.038,130)(0.040,150)(0.042,120)(0.044,90)(0.046,120)(0.048,140)(0.050,100)(0.052,60)(0.055,110)(0.058,130)(0.061,80)(0.064,120)(0.067,90)(0.070,110)(0.073,70)(0.076,100)(0.079,60)(0.082,110)(0.085,75)(0.088,95)(0.091,55)(0.094,85)(0.097,60)(0.10,90)(0.105,40)(0.11,80)(0.115,30)(0.12,70)(0.125,45)(0.13,75)(0.14,25)(0.15,60)(0.16,35)(0.17,65)(0.18,20)(0.19,55)(0.20,30)(0.21,50)(0.22,15)(0.23,45)(0.24,25)(0.25,40)(0.26,10)(0.28,35)(0.30,15)(0.32,30)(0.34,6)(0.36,25)(0.38,8)(0.40,18)(0.42,4)(0.44,12)(0.46,3)(0.48,8)(0.50,1.5)(0.53,5)(0.56,0.8)(0.59,3)(0.62,0.5)(0.65,1.5)(0.68,0.2)(0.71,0.8)(0.74,0.1)(0.77,0.4)(0.80,0.05)(0.83,0.2)(0.86,0.03)(0.89,0.1)(0.92,0.02)(0.95,0.06)(0.98,0.015)(1.01,0.05)(1.05,0.1)(1.09,0.4)(1.13,0.3)(1.17,1.5)(1.21,0.8)(1.25,4)(1.30,2)(1.35,8)(1.40,3)(1.45,10)(1.50,4)(1.55,12)(1.60,5)(1.65,10)(1.70,4)(1.75,12)(1.80,5)(1.85,9)(1.90,3)(1.95,8)(2.0,4)};
\end{loglogaxis}
\end{tikzpicture}
\end{document}
